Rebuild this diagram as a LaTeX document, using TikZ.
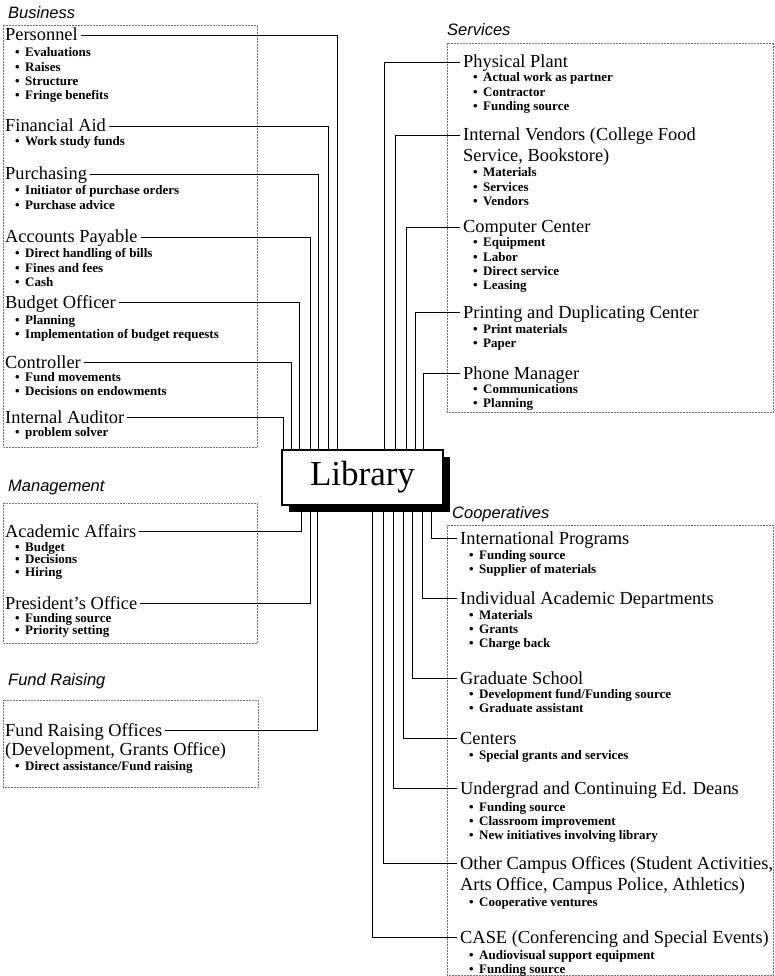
\documentclass[tikz,border=0pt]{standalone}
\usepackage{fontspec}
\setmainfont{Liberation Serif}
\setsansfont{Liberation Sans}
\usetikzlibrary{shadows}
\tikzset{
  head/.style={anchor=base west,inner sep=0pt,font=\sffamily\itshape\fontsize{16.5}{18}\selectfont},
  unit/.style={anchor=west,inner xsep=3pt,inner ysep=0pt,text height=13pt,text depth=1pt,font=\fontsize{18.4}{20}\selectfont},
  more/.style={anchor=base west,inner sep=0pt,font=\fontsize{18.4}{20}\selectfont},
  items/.style={anchor=base west,inner sep=0pt,font=\bfseries\fontsize{13}{14.1}\selectfont},
  tight/.style={font=\bfseries\fontsize{13}{11.8}\selectfont},
  group/.style={black!55,densely dotted,line width=0.5pt},
  link/.style={line width=0.9pt},
}
\newcommand{\bul}[1]{\makebox[10pt][l]{\textbullet}#1}
\newcommand{\bullist}[1]{\begin{tabular}[t]{@{}l@{}}#1\end{tabular}}
\begin{document}
\begin{tikzpicture}[x=1pt,y=-1pt]
\useasboundingbox (0,0) rectangle (775,976);
\node[draw,line width=1.2pt,fill=white,minimum width=161pt,minimum height=55pt,inner sep=0pt,
  font=\fontsize{35}{40}\selectfont,
  drop shadow={shadow xshift=7pt,shadow yshift=-7pt,fill=black,opacity=1}] (lib) at (362.5,477.5) {Library};

% Business
\node[head] (hbus) at (8,19) {Business};
\draw[group] (3,25) rectangle (257,447);
\node[unit] (pers) at (2,35) {Personnel};
\node[items] at (15,57) {\bullist{\bul{Evaluations}\\\bul{Raises}\\\bul{Structure}\\\bul{Fringe benefits}}};
\node[unit] (finaid) at (2,126) {Financial Aid};
\node[items] at (15,146) {\bullist{\bul{Work study funds}}};
\node[unit] (purch) at (2,174) {Purchasing};
\node[items] at (15,195) {\bullist{\bul{Initiator of purchase orders}\\\bul{Purchase advice}}};
\node[unit] (acctpay) at (2,237) {Accounts Payable};
\node[items] at (15,258) {\bullist{\bul{Direct handling of bills}\\\bul{Fines and fees}\\\bul{Cash}}};
\node[unit] (budget) at (2,302) {Budget Officer};
\node[items] at (15,324) {\bullist{\bul{Planning}\\\bul{Implementation of budget requests}}};
\node[unit] (control) at (2,362) {Controller};
\node[items] at (15,381) {\bullist{\bul{Fund movements}\\\bul{Decisions on endowments}}};
\node[unit] (auditor) at (2,417) {Internal Auditor};
\node[items] at (15,436) {\bullist{\bul{problem solver}}};

% Management
\node[head] (hman) at (8,491) {Management};
\draw[group] (3,503) rectangle (257,643);
\node[unit] (acad) at (2,531) {Academic Affairs};
\node[items,tight] at (15,551) {\bullist{\bul{Budget}\\\bul{Decisions}\\\bul{Hiring}}};
\node[unit] (pres) at (2,603) {President's Office};
\node[items,tight] at (15,622) {\bullist{\bul{Funding source}\\\bul{Priority setting}}};

% Fund Raising
\node[head] (hfund) at (8,685) {Fund Raising};
\draw[group] (3,700) rectangle (258,787);
\node[unit] (fundr) at (2,730) {Fund Raising Offices};
\node[more] at (5,755) {(Development, Grants Office)};
\node[items] at (15,770) {\bullist{\bul{Direct assistance/Fund raising}}};

% Services
\node[head] (hserv) at (447,36) {Services};
\draw[group] (447,43) rectangle (773,412);
\node[unit] (phys) at (460,62) {Physical Plant};
\node[items] at (473,82) {\bullist{\bul{Actual work as partner}\\\bul{Contractor}\\\bul{Funding source}}};
\node[unit] (vend) at (460,135) {Internal Vendors (College Food};
\node[more] at (463,162) {Service, Bookstore)};
\node[items] at (473,177) {\bullist{\bul{Materials}\\\bul{Services}\\\bul{Vendors}}};
\node[unit] (comp) at (460,227) {Computer Center};
\node[items] at (473,247) {\bullist{\bul{Equipment}\\\bul{Labor}\\\bul{Direct service}\\\bul{Leasing}}};
\node[unit] (print) at (460,312) {Printing and Duplicating Center};
\node[items] at (473,333) {\bullist{\bul{Print materials}\\\bul{Paper}}};
\node[unit] (phone) at (460,373) {Phone Manager};
\node[items] at (473,393) {\bullist{\bul{Communications}\\\bul{Planning}}};

% Cooperatives
\node[head] (hcoop) at (452,518) {Cooperatives};
\draw[group] (447,525) rectangle (773,975);
\node[unit] (intl) at (457,538) {International Programs};
\node[items] at (469,559) {\bullist{\bul{Funding source}\\\bul{Supplier of materials}}};
\node[unit] (indiv) at (457,598) {Individual Academic Departments};
\node[items] at (469,619) {\bullist{\bul{Materials}\\\bul{Grants}\\\bul{Charge back}}};
\node[unit] (grad) at (457,678) {Graduate School};
\node[items] at (469,698) {\bullist{\bul{Development fund/Funding source}\\\bul{Graduate assistant}}};
\node[unit] (centers) at (457,738) {Centers};
\node[items] at (469,759) {\bullist{\bul{Special grants and services}}};
\node[unit] (under) at (457,788) {Undergrad and Continuing Ed. Deans};
\node[items] at (469,811) {\bullist{\bul{Funding source}\\\bul{Classroom improvement}\\\bul{New initiatives involving library}}};
\node[unit] (other) at (457,863) {Other Campus Offices (Student Activities,};
\node[more] at (460,890) {Arts Office, Campus Police, Athletics)};
\node[items] at (469,906) {\bullist{\bul{Cooperative ventures}}};
\node[unit] (case) at (457,937) {CASE (Conferencing and Special Events)};
\node[items] at (469,959) {\bullist{\bul{Audiovisual support equipment}\\\bul{Funding source}}};

% connectors
\draw[link] (pers.east) -| ([xshift=56pt]lib.north west);
\draw[link] (finaid.east) -| ([xshift=47pt]lib.north west);
\draw[link] (purch.east) -| ([xshift=37pt]lib.north west);
\draw[link] (acctpay.east) -| ([xshift=29pt]lib.north west);
\draw[link] (budget.east) -| ([xshift=18pt]lib.north west);
\draw[link] (control.east) -| ([xshift=10pt]lib.north west);
\draw[link] (auditor.east) -| ([xshift=2pt]lib.north west);
\draw[link] (acad.east) -| ([xshift=20pt]lib.south west);
\draw[link] (pres.east) -| ([xshift=29pt]lib.south west);
\draw[link] (fundr.east) -| ([xshift=36pt]lib.south west);
\draw[link] (phys.west) -| ([xshift=-59pt]lib.north east);
\draw[link] (vend.west) -| ([xshift=-48pt]lib.north east);
\draw[link] (comp.west) -| ([xshift=-37pt]lib.north east);
\draw[link] (print.west) -| ([xshift=-28pt]lib.north east);
\draw[link] (phone.west) -| ([xshift=-20pt]lib.north east);
\draw[link] (intl.west) -| ([xshift=-12pt]lib.south east);
\draw[link] (indiv.west) -| ([xshift=-21pt]lib.south east);
\draw[link] (grad.west) -| ([xshift=-31pt]lib.south east);
\draw[link] (centers.west) -| ([xshift=-40pt]lib.south east);
\draw[link] (under.west) -| ([xshift=-50pt]lib.south east);
\draw[link] (other.west) -| ([xshift=-60pt]lib.south east);
\draw[link] (case.west) -| ([xshift=-71pt]lib.south east);
\end{tikzpicture}
\end{document}
